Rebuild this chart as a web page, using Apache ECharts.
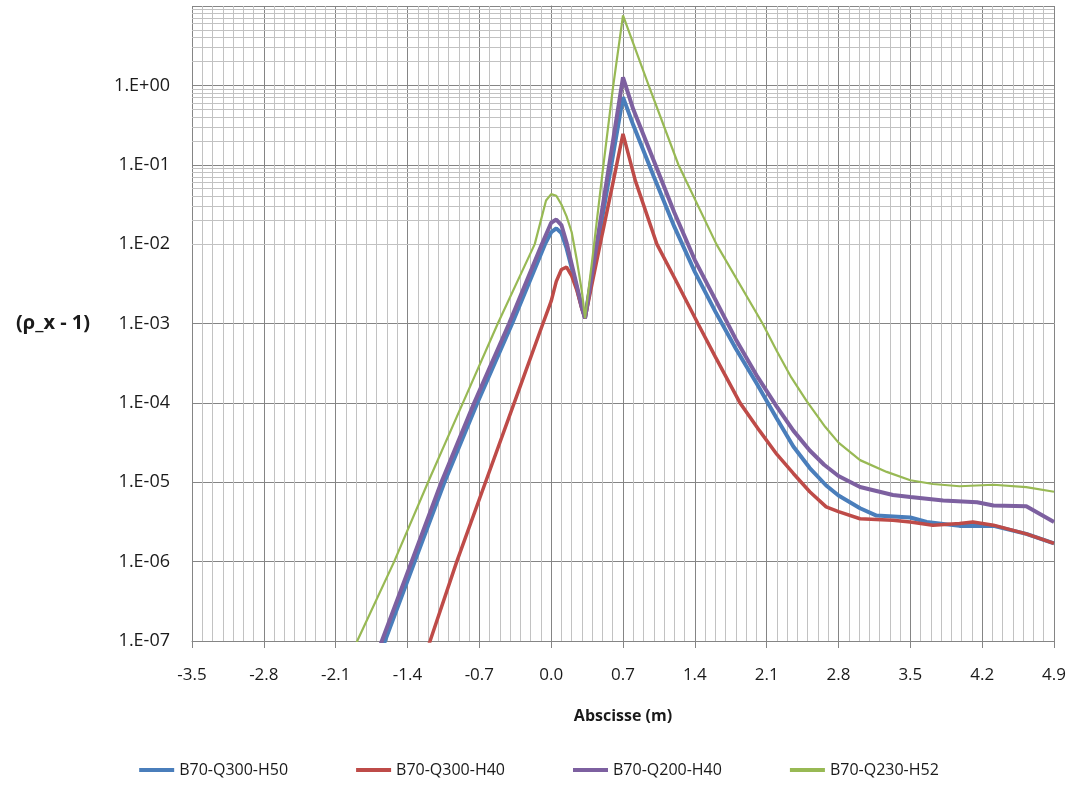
<!DOCTYPE html>
<html>
<head>
<meta charset="utf-8">
<script src="https://cdn.jsdelivr.net/npm/echarts@6/dist/echarts.min.js"></script>
<style>
  html, body { margin: 0; padding: 0; background: #fff; }
  #chart { width: 1078px; height: 789px; }
</style>
</head>
<body>
<div id="chart"></div>
<script>
// abscissa ticks (m)
const xTicks = [-3.5, -2.8, -2.1, -1.4, -0.7, 0.0, 0.7, 1.4, 2.1, 2.8, 3.5, 4.2, 4.9]

// B70-Q300-H50 (blue)
const blueX = [-1.70, -1.62, -1.33, -1.04, -0.72, -0.38, -0.06, 0.00, 0.05, 0.10, 0.15, 0.20, 0.25, 0.30, 0.33,
    0.40, 0.50, 0.60, 0.70, 0.80, 1.00, 1.20, 1.40, 1.60, 1.80, 2.00, 2.20, 2.36, 2.52, 2.68, 2.80, 3.01, 3.17,
    3.50, 3.66, 3.98, 4.31, 4.63, 4.90]
const blueY = [5e-8, 1e-7, 1e-6, 1e-5, 1e-4, 1e-3, 1e-2, 1.41e-2, 1.58e-2, 1.38e-2, 8.9e-3, 5.0e-3, 2.8e-3, 1.58e-3, 1.17e-3,
    3.98e-3, 2.24e-2, 0.126, 0.71, 0.316, 7.1e-2, 1.66e-2, 4.47e-3, 1.41e-3, 4.8e-4, 1.78e-4, 6.3e-5, 2.82e-5, 1.51e-5, 9.1e-6, 6.8e-6, 4.7e-6, 3.8e-6,
    3.6e-6, 3.16e-6, 2.82e-6, 2.82e-6, 2.24e-6, 1.7e-6]

// B70-Q300-H40 (red)
const redX = [-1.26, -1.18, -0.92, -0.64, -0.36, -0.08, 0.00, 0.05, 0.10, 0.15, 0.20, 0.25, 0.30, 0.33,
    0.40, 0.50, 0.60, 0.70, 0.82, 1.03, 1.20, 1.43, 1.60, 1.84, 2.03, 2.20, 2.36, 2.52, 2.68, 2.80, 3.01, 3.33,
    3.50, 3.72, 3.98, 4.11, 4.31, 4.63, 4.90]
const redY = [5e-8, 1e-7, 1e-6, 1e-5, 1e-4, 1e-3, 1.91e-3, 3.39e-3, 4.79e-3, 5.13e-3, 3.98e-3, 2.63e-3, 1.51e-3, 1.17e-3,
    3.24e-3, 1.38e-2, 5.75e-2, 0.245, 6.3e-2, 1e-2, 3.8e-3, 1e-3, 3.8e-4, 1e-4, 4.47e-5, 2.24e-5, 1.29e-5, 7.6e-6, 4.9e-6, 4.27e-6, 3.47e-6, 3.31e-6,
    3.16e-6, 2.88e-6, 3.02e-6, 3.16e-6, 2.88e-6, 2.24e-6, 1.7e-6]

// B70-Q200-H40 (purple)
const purpleX = [-1.73, -1.65, -1.36, -1.07, -0.75, -0.41, -0.09, 0.00, 0.05, 0.10, 0.15, 0.20, 0.25, 0.30, 0.33,
    0.40, 0.50, 0.60, 0.70, 0.80, 1.00, 1.20, 1.40, 1.60, 1.80, 2.00, 2.20, 2.36, 2.52, 2.66, 2.80, 3.01, 3.33,
    3.50, 3.82, 4.15, 4.31, 4.63, 4.90]
const purpleY = [5e-8, 1e-7, 1e-6, 1e-5, 1e-4, 1e-3, 1e-2, 1.86e-2, 2.04e-2, 1.74e-2, 1.05e-2, 5.6e-3, 3.0e-3, 1.58e-3, 1.17e-3,
    4.37e-3, 2.88e-2, 0.19, 1.26, 0.5, 0.112, 2.5e-2, 6.3e-3, 2.0e-3, 6.3e-4, 2.24e-4, 8.9e-5, 4.47e-5, 2.51e-5, 1.66e-5, 1.2e-5, 8.7e-6, 6.9e-6,
    6.5e-6, 5.9e-6, 5.6e-6, 5.1e-6, 5.0e-6, 3.16e-6]

// B70-Q230-H52 (green)
const greenX = [-2.00, -1.89, -1.53, -1.20, -0.86, -0.52, -0.16, -0.05, 0.00, 0.05, 0.10, 0.15, 0.20, 0.25, 0.30, 0.33,
    0.40, 0.50, 0.60, 0.70, 0.95, 1.24, 1.61, 2.06, 2.20, 2.34, 2.49, 2.67, 2.80, 3.01, 3.27, 3.50, 3.72, 3.98, 4.31, 4.63, 4.90]
const greenY = [4e-8, 1e-7, 1e-6, 1e-5, 1e-4, 1e-3, 1e-2, 3.55e-2, 4.27e-2, 4.07e-2, 3.16e-2, 2.24e-2, 1.41e-2, 6.3e-3, 2.5e-3, 1.17e-3,
    6.3e-3, 7.9e-2, 0.89, 7.6, 1, 0.1, 1e-2, 1e-3, 4.47e-4, 2.09e-4, 1.05e-4, 5.0e-5, 3.16e-5, 1.9e-5, 1.35e-5, 1.06e-5, 9.5e-6, 8.9e-6, 9.3e-6, 8.7e-6, 7.6e-6]

const seriesNames = ['B70-Q300-H50', 'B70-Q300-H40', 'B70-Q200-H40', 'B70-Q230-H52']
const seriesColors = ['#4A7EBB', '#BE4B48', '#7D60A0', '#98B954']

const font = '"Open Sans", Lato, sans-serif'
const majorGrid = '#858585'
const minorGrid = '#c2c2c2'

function pairs(xs, ys) {
    return xs.map((x, i) => [x, ys[i]])
}

// log minor grid lines (2..9 in each decade)
const minorLogLines = []
for (let e = -7; e <= 0; e++) {
    for (let m = 2; m <= 9; m++) {
        minorLogLines.push({ yAxis: m * Math.pow(10, e) })
    }
}

function expLabel(v) {
    const e = Math.round(Math.log10(v))
    return '1.E' + (e < 0 ? '-' : '+') + String(Math.abs(e)).padStart(2, '0')
}

function lineSeries(i, xs, ys, width) {
    return {
        name: seriesNames[i],
        type: 'line',
        data: pairs(xs, ys),
        showSymbol: false,
        symbol: 'none',
        clip: true,
        z: 5 + i,
        lineStyle: { color: seriesColors[i], width: width },
        itemStyle: { color: seriesColors[i] }
    }
}

const chart = echarts.init(document.getElementById('chart'))

chart.setOption({
    animation: false,
    backgroundColor: '#fff',
    grid: { left: 192, right: 24, top: 6, bottom: 148 },
    legend: {
        data: seriesNames,
        bottom: 6,
        left: 'center',
        icon: 'rect',
        itemWidth: 35,
        itemHeight: 4,
        itemGap: 68,
        textStyle: { fontFamily: font, fontSize: 16, color: '#1a1a1a' }
    },
    xAxis: {
        type: 'value',
        min: xTicks[0],
        max: xTicks[xTicks.length - 1],
        interval: 0.7,
        name: 'Abscisse (m)',
        nameLocation: 'middle',
        nameGap: 67,
        nameTextStyle: { fontFamily: font, fontSize: 16, fontWeight: 'bold', color: '#1a1a1a' },
        axisLine: { show: true, lineStyle: { color: majorGrid } },
        axisTick: { show: true, length: 7, lineStyle: { color: majorGrid } },
        axisLabel: {
            margin: 26,
            fontFamily: font,
            fontSize: 17,
            color: '#1a1a1a',
            formatter: v => v.toFixed(1)
        },
        splitLine: { show: true, lineStyle: { color: majorGrid, width: 1 } },
        minorTick: { show: false, splitNumber: 7 },
        minorSplitLine: { show: true, lineStyle: { color: minorGrid, width: 1 } }
    },
    yAxis: {
        type: 'log',
        logBase: 10,
        min: 1e-7,
        max: 10,
        splitNumber: 8,
        name: '(\u03c1_x - 1)',
        nameLocation: 'middle',
        nameRotate: 0,
        nameGap: 102,
        nameTextStyle: { fontFamily: font, fontSize: 20, fontWeight: 'bold', color: '#1a1a1a' },
        axisLine: { show: true, lineStyle: { color: majorGrid } },
        axisTick: { show: false },
        axisLabel: {
            margin: 22,
            fontFamily: font,
            fontSize: 18,
            color: '#1a1a1a',
            showMaxLabel: false,
            formatter: expLabel
        },
        splitLine: { show: true, lineStyle: { color: majorGrid, width: 1 } }
    },
    series: [
        {
            name: 'minor-grid',
            type: 'line',
            data: [],
            z: 1,
            silent: true,
            markLine: {
                silent: true,
                symbol: ['none', 'none'],
                label: { show: false },
                lineStyle: { color: minorGrid, width: 1, type: 'solid' },
                emphasis: { disabled: true },
                data: minorLogLines
            }
        },
        lineSeries(0, blueX, blueY, 4),
        lineSeries(1, redX, redY, 3.5),
        lineSeries(2, purpleX, purpleY, 4),
        lineSeries(3, greenX, greenY, 2.2)
    ]
})
</script>
</body>
</html>
